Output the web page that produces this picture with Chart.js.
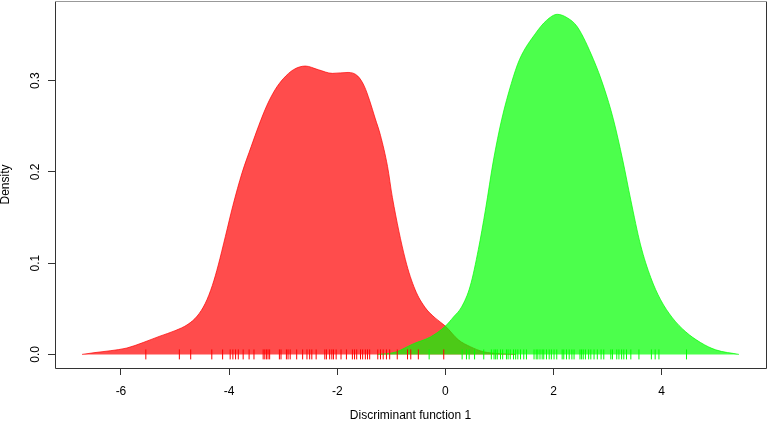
<!DOCTYPE html>
<html>
<head>
<meta charset="utf-8">
<script src="https://cdn.jsdelivr.net/npm/chart.js@4/dist/chart.umd.min.js"></script>
<style>
  html, body { margin: 0; padding: 0; background: #fff; }
  #wrap { width: 767px; height: 423px; }
</style>
</head>
<body>
<div id="wrap"><canvas id="ldaChart" width="767" height="423"></canvas></div>
<script>
// density of discriminant scores, group 1 (red)
const redX = [-6.72, -6.48, -6.20, -5.89, -5.59, -5.28, -5.00, -4.76, -4.59, -4.44, -4.31, -4.20, -4.07, -3.93, -3.76, -3.59, -3.45, -3.30, -3.15, -3.00, -2.81, -2.59, -2.35, -2.09, -1.80, -1.62, -1.50, -1.40, -1.30, -1.20, -1.07, -0.98, -0.74, -0.56, -0.37, -0.19, 0.00, 0.24, 0.46, 0.70, 1.00, 1.30];
const redY = [0, 0.002, 0.004, 0.007, 0.013, 0.020, 0.026, 0.033, 0.042, 0.056, 0.0755, 0.098, 0.129, 0.163, 0.199, 0.228, 0.251, 0.273, 0.290, 0.302, 0.312, 0.316, 0.312, 0.308, 0.309, 0.305, 0.294, 0.278, 0.259, 0.240, 0.206, 0.172, 0.104, 0.071, 0.051, 0.040, 0.031, 0.016, 0.0085, 0.003, 0.0008, 0];

// density of discriminant scores, group 2 (green)
const greenX = [-1.26, -0.93, -0.59, -0.28, 0.00, 0.15, 0.30, 0.46, 0.61, 0.74, 0.89, 1.04, 1.22, 1.37, 1.67, 1.87, 2.07, 2.25, 2.44, 2.74, 2.93, 3.11, 3.28, 3.43, 3.61, 3.80, 3.98, 4.20, 4.44, 4.72, 5.00, 5.43];
const greenY = [0, 0.0024, 0.0117, 0.019, 0.031, 0.041, 0.052, 0.075, 0.115, 0.158, 0.213, 0.257, 0.297, 0.323, 0.352, 0.366, 0.3727, 0.369, 0.359, 0.323, 0.293, 0.257, 0.213, 0.169, 0.120, 0.084, 0.060, 0.040, 0.025, 0.013, 0.005, 0];

// rug of individual scores
const redRug = [-5.54, -4.92, -4.71, -4.32, -4.12, -3.98, -3.93, -3.88, -3.83, -3.74, -3.63, -3.54, -3.37, -3.34, -3.31, -3.28, -3.25, -3.07, -3.04, -2.94, -2.91, -2.87, -2.75, -2.64, -2.56, -2.51, -2.47, -2.39, -2.23, -2.20, -2.14, -2.10, -2.07, -2.02, -1.93, -1.83, -1.72, -1.68, -1.64, -1.57, -1.53, -1.48, -1.44, -1.40, -1.25, -1.20, -1.15, -1.09, -1.03, -0.89, -0.70, -0.64, -0.50, -0.03];
const greenRug = [-0.30, 0.31, 0.39, 0.44, 0.54, 0.71, 0.85, 0.90, 0.93, 0.96, 1.02, 1.06, 1.13, 1.16, 1.20, 1.26, 1.30, 1.34, 1.39, 1.45, 1.50, 1.64, 1.68, 1.71, 1.75, 1.79, 1.82, 1.87, 1.92, 1.96, 2.01, 2.06, 2.16, 2.19, 2.24, 2.29, 2.34, 2.38, 2.49, 2.52, 2.55, 2.59, 2.65, 2.69, 2.75, 2.81, 2.88, 2.93, 3.06, 3.09, 3.17, 3.21, 3.26, 3.30, 3.35, 3.43, 3.58, 3.81, 3.88, 3.95, 4.46];

const xTicks = [-6, -4, -2, 0, 2, 4];
const yTicks = [0, 0.1, 0.2, 0.3];

const toPts = (xs, ys) => xs.map((x, i) => ({ x, y: ys[i] }));
const rugPts = xs => xs.map(x => ({ x, y: 0 }));

const FONT = { family: "'Liberation Sans', Arial, sans-serif", size: 12 };

const boxPlugin = {
  id: "box",
  afterDraw(chart) {
    const { ctx, chartArea: a } = chart;
    ctx.save();
    ctx.lineWidth = 1;
    ctx.strokeStyle = "#333";
    ctx.beginPath();
    ctx.moveTo(a.left + 0.5, a.top + 0.5);
    ctx.lineTo(a.left + 0.5, a.bottom + 0.5);
    ctx.lineTo(a.right + 0.5, a.bottom + 0.5);
    ctx.lineTo(a.right + 0.5, a.top + 0.5);
    ctx.stroke();
    ctx.strokeStyle = "#999";
    ctx.beginPath();
    ctx.moveTo(a.left + 0.5, a.top + 0.5);
    ctx.lineTo(a.right + 0.5, a.top + 0.5);
    ctx.stroke();
    ctx.restore();
  }
};

const densityStyle = (col) => ({
  showLine: true,
  pointRadius: 0,
  borderWidth: 1,
  borderColor: col,
  backgroundColor: col,
  fill: "origin",
  cubicInterpolationMode: "monotone"
});

const rugStyle = (col) => ({
  pointStyle: "line",
  rotation: 90,
  pointRadius: 5,
  borderWidth: 1,
  borderColor: col,
  backgroundColor: col
});

new Chart(document.getElementById("ldaChart").getContext("2d"), {
  type: "scatter",
  data: {
    datasets: [
      { label: "group 1", data: toPts(redX, redY), order: 3, ...densityStyle("rgba(255,0,0,0.7)") },
      { label: "group 2", data: toPts(greenX, greenY), order: 2, ...densityStyle("rgba(0,255,0,0.7)") },
      { label: "rug 1", data: rugPts(redRug), order: 1, ...rugStyle("#ff0000") },
      { label: "rug 2", data: rugPts(greenRug), order: 0, ...rugStyle("#00ff00") }
    ]
  },
  options: {
    responsive: false,
    animation: false,
    events: [],
    layout: { autoPadding: false, padding: { left: 0, right: 1, top: 1, bottom: 0 } },
    plugins: { legend: { display: false }, tooltip: { enabled: false } },
    scales: {
      x: {
        type: "linear",
        bounds: "data",
        min: -7.22,
        max: 5.93,
        afterBuildTicks: axis => { axis.ticks = xTicks.map(v => ({ value: v })); },
        afterFit: axis => { axis.height = 55; axis.paddingLeft = 0; axis.paddingRight = 0; },
        border: { display: false },
        grid: { drawOnChartArea: false, drawTicks: true, tickLength: 7, tickColor: "#333" },
        ticks: { font: FONT, color: "#000", padding: 9, maxRotation: 0, autoSkip: false },
        title: { display: true, text: "Discriminant function 1", font: FONT, color: "#000", padding: 0 }
      },
      y: {
        type: "linear",
        bounds: "data",
        min: -0.0149,
        max: 0.3873,
        afterBuildTicks: axis => { axis.ticks = yTicks.map(v => ({ value: v })); },
        afterFit: axis => { axis.width = 55; axis.paddingTop = 0; axis.paddingBottom = 0; },
        border: { display: false },
        grid: { drawOnChartArea: false, drawTicks: true, tickLength: 7, tickColor: "#333" },
        ticks: {
          font: FONT, color: "#000", padding: 4, minRotation: 90, maxRotation: 90,
          crossAlign: "center", autoSkip: false,
          callback: v => v.toFixed(1)
        },
        title: { display: true, text: "Density", font: { ...FONT, lineHeight: 1 }, color: "#000", padding: 0 }
      }
    }
  },
  plugins: [boxPlugin]
});
</script>
</body>
</html>
